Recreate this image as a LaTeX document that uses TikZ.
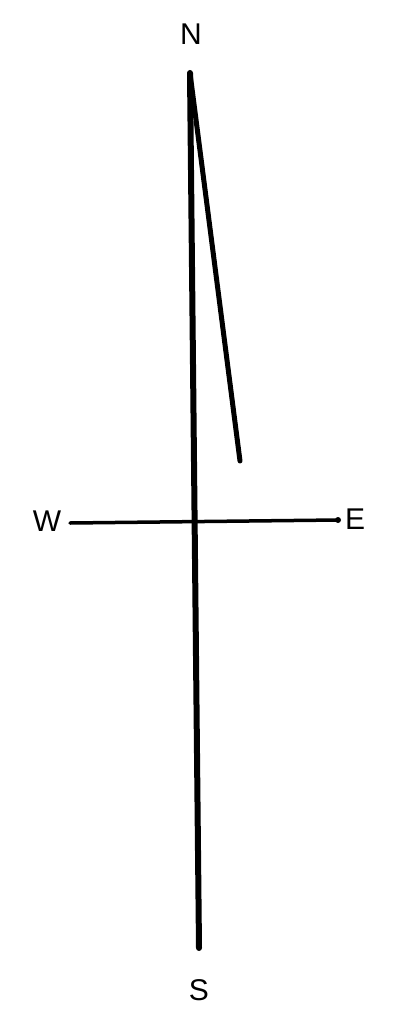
\documentclass[tikz,border=0pt]{standalone}
\usepackage{fontspec}
\setmainfont{Liberation Sans}
\begin{document}
\begin{tikzpicture}[x=1pt,y=-1pt,
  lbl/.style={font=\fontsize{30}{30}\selectfont, inner sep=0pt, anchor=center},
  axis/.style={line width=#1, line cap=round, draw=black}]
\useasboundingbox[fill=white] (0,0) rectangle (400,1014);
\node[lbl] (n) at (191,34) {N};
\node[lbl] (s) at (199,990) {S};
\node[lbl] (w) at (47,521) {W};
\node[lbl] (e) at (355,519) {E};
\coordinate (top) at (190,73);
\coordinate (bot) at (199,948);
\coordinate (wl) at (70,523);
\coordinate (er) at (338,520);
\coordinate (tip) at (240,461);
\draw[axis=6pt] (top) -- (bot);
\draw[axis=3.5pt] (wl) -- (er);
\fill (er) circle (3pt);
\draw[axis=5pt] (top) -- (tip);
\end{tikzpicture}
\end{document}
